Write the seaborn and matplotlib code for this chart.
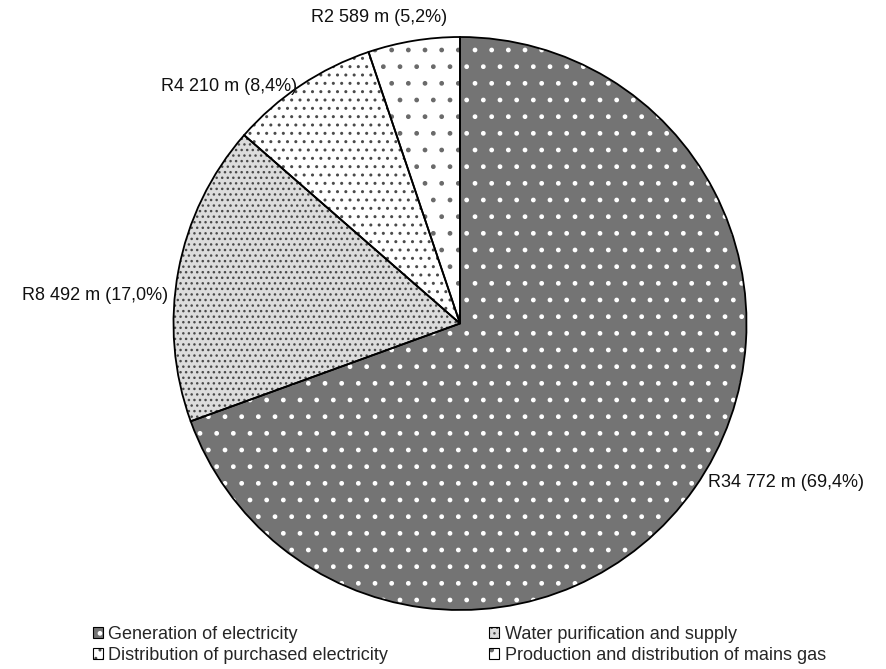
import numpy as np
import matplotlib
matplotlib.use("Agg")
import matplotlib.pyplot as plt
import seaborn as sns
from matplotlib.legend_handler import HandlerTuple

sns.set_theme(style="white")
plt.rcParams["font.family"] = ["Liberation Sans", "DejaVu Sans"]
plt.rcParams["hatch.linewidth"] = 1.0

# Income by activity, rand million
categories = [
    "Generation of electricity",
    "Water purification and supply",
    "Distribution of purchased electricity",
    "Production and distribution of mains gas",
]
values = [34772, 8492, 4210, 2589]
labels = ["R34 772 m (69,4%)", "R8 492 m (17,0%)", "R4 210 m (8,4%)", "R2 589 m (5,2%)"]

# fill styles per slice: background, dot pattern, dot colour
faces = ["#747474", "#dcdcdc", "#ffffff", "#ffffff"]
hatches = [".", "...", "..", "."]
dot_colors = ["#ffffff", "#4a4a4a", "#4a4a4a", "#6a6a6a"]

# label offsets (pixels) from the rim point at each slice's mid-angle
label_offsets = [(13, 5), (-10, -25), (-4, -1), (33, 23)]
label_ha = ["left", "right", "right", "right"]

fig = plt.figure(figsize=(8.86, 6.69), dpi=100)
cx, cy, r = 460.0, 323.5, 286.5
W, H = 886.0, 669.0
ax = fig.add_axes([(cx - r) / W, (H - cy - r) / H, 2 * r / W, 2 * r / H])

# patterned fills
wedges, _ = ax.pie(values, startangle=90, counterclock=False, radius=1.0,
                   wedgeprops=dict(linewidth=0))
for w, fc, h, dc in zip(wedges, faces, hatches, dot_colors):
    w.set_facecolor(fc)
    w.set_hatch(h)
    w.set_edgecolor(dc)
    w.set_linewidth(0)

# black outlines drawn over the fills
outlines, _ = ax.pie(values, startangle=90, counterclock=False, radius=1.0,
                     wedgeprops=dict(fill=False, edgecolor="black", linewidth=1.3))

ax.set_xlim(-1, 1)
ax.set_ylim(-1, 1)
ax.set_aspect("equal")
ax.axis("off")

for w, lab, off, ha in zip(wedges, labels, label_offsets, label_ha):
    ang = np.deg2rad((w.theta1 + w.theta2) / 2)
    ax.annotate(lab, xy=(np.cos(ang), np.sin(ang)), xytext=off,
                textcoords="offset pixels", ha=ha, va="center",
                fontsize=13, color="#111111", annotation_clip=False)

# legend with small patterned squares framed in black
handles = []
for w in wedges:
    fill = matplotlib.patches.Rectangle((0, 0), 1, 1, facecolor=w.get_facecolor(),
                                        hatch=w.get_hatch(), edgecolor=w.get_edgecolor(),
                                        linewidth=0)
    frame = matplotlib.patches.Rectangle((0, 0), 1, 1, fill=False,
                                         edgecolor="black", linewidth=0.8)
    handles.append((fill, frame))

order = [0, 2, 1, 3]
fig.legend([handles[i] for i in order], [categories[i] for i in order],
           handler_map={tuple: HandlerTuple(ndivide=1)},
           loc="upper left", bbox_to_anchor=(93 / W, 1 - 626 / H),
           ncol=2, frameon=False, fontsize=13,
           handlelength=0.55, handleheight=0.55, handletextpad=0.3,
           columnspacing=5.6, labelspacing=0.22, borderpad=0, borderaxespad=0)

fig.savefig("out.png", dpi=100, facecolor="white")
